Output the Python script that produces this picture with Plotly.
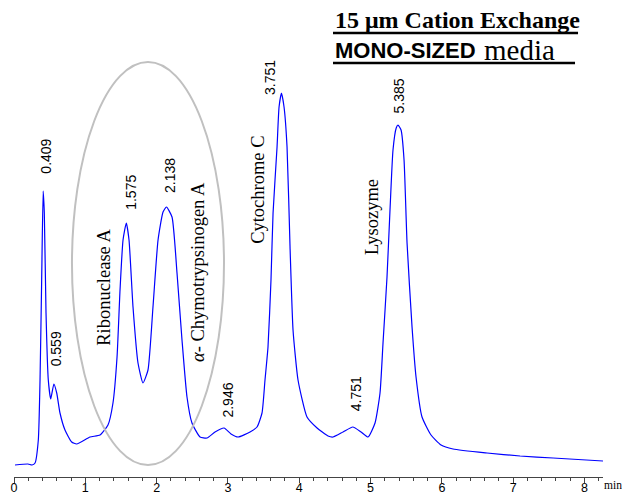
import plotly.graph_objects as go
import numpy as np

# Chromatogram trace (time in min, detector signal in arbitrary units)
time_min = [0.014, 0.196, 0.252, 0.295, 0.341, 0.365, 0.388, 0.409, 0.425, 0.449,
            0.481, 0.515, 0.559, 0.599, 0.645, 0.715, 0.809, 0.879, 1.066, 1.206,
            1.318, 1.388, 1.445, 1.487, 1.529, 1.575, 1.613, 1.669, 1.739, 1.809,
            1.879, 1.949, 2.020, 2.090, 2.138, 2.216, 2.286, 2.356, 2.426, 2.496,
            2.609, 2.707, 2.819, 2.946, 3.043, 3.142, 3.310, 3.408, 3.478, 3.520,
            3.562, 3.604, 3.633, 3.689, 3.717, 3.751, 3.787, 3.829, 3.871, 3.913,
            3.983, 4.109, 4.250, 4.404, 4.474, 4.614, 4.751, 4.867, 4.965, 5.063,
            5.133, 5.175, 5.231, 5.273, 5.315, 5.360, 5.385, 5.428, 5.470, 5.512,
            5.582, 5.638, 5.722, 5.848, 5.989, 6.157, 6.634, 7.097, 7.560, 8.261]
signal = [12, 13, 12, 14, 37, 97, 197, 286, 264, 164,
          97, 78, 93, 84, 64, 47, 35, 33, 40, 42,
          52, 74, 120, 187, 237, 254, 237, 170, 114, 94,
          107, 170, 237, 265, 270, 260, 204, 137, 80, 54,
          40, 39, 45, 49, 43, 40, 45, 50, 64, 97,
          130, 197, 264, 330, 370, 384, 370, 330, 230, 147,
          97, 60, 49, 41, 40, 45, 50, 45, 40, 54,
          84, 134, 200, 267, 327, 349, 352, 347, 317, 234,
          150, 100, 60, 42, 32, 28, 24, 21, 19, 16]

# Peak retention times (labels) and label nudges (pixels)
peak_times = [0.409, 0.559, 1.575, 2.138, 2.946, 3.751, 4.751, 5.385]
peak_labels = ["0.409", "0.559", "1.575", "2.138", "2.946", "3.751", "4.751", "5.385"]
label_dx = [2, 2, 4, 3, 3, -12, 3, 1]
label_dy = [15, 16, 11, 12, 8, -4, 14, 10]

# Compound names
compounds = ["Ribonuclease A", "<i>α</i>- Chymotrypsinogen A", "Cytochrome C", "Lysozyme"]
compound_t = [1.26, 2.58, 3.42, 5.02]
compound_s = [190, 205, 287, 260]

x_ticks = [0, 1, 2, 3, 4, 5, 6, 7, 8]

fig = go.Figure()
fig.add_trace(go.Scatter(x=time_min, y=signal, mode="lines",
                         line=dict(color="#0000ff", width=1.2, shape="spline", smoothing=0.5),
                         hoverinfo="x+y", showlegend=False))

num_font = dict(family="Liberation Sans, Arial", size=14, color="black")
for t, lab, dx, dy in zip(peak_times, peak_labels, label_dx, label_dy):
    h = float(np.interp(t, time_min, signal))
    fig.add_annotation(x=t, y=h, text=lab, showarrow=False, textangle=-90,
                       xanchor="center", yanchor="bottom", xshift=dx, yshift=dy,
                       font=num_font)

name_font = dict(family="Liberation Serif, Times New Roman", size=18.5, color="black")
for name, t, s in zip(compounds, compound_t, compound_s):
    fig.add_annotation(x=t, y=s, text=name, showarrow=False, textangle=-90,
                       xanchor="center", yanchor="middle", font=name_font)

# Title block
fig.add_annotation(xref="paper", yref="paper", x=0.5416, y=0.9744,
                   xanchor="left", yanchor="middle", showarrow=False,
                   text="<b>15 μm Cation Exchange</b>",
                   font=dict(family="Liberation Serif, Times New Roman", size=24, color="black"))
fig.add_annotation(xref="paper", yref="paper", x=0.5416, y=0.9104,
                   xanchor="left", yanchor="middle", showarrow=False,
                   text="<b>MONO-SIZED</b>",
                   font=dict(family="Liberation Sans, Arial", size=22, color="black"))
fig.add_annotation(xref="paper", yref="paper", x=0.7946, y=0.9104,
                   xanchor="left", yanchor="middle", showarrow=False,
                   text="media",
                   font=dict(family="Liberation Serif, Times New Roman", size=29, color="black"))

# "min" axis unit
fig.add_annotation(xref="paper", yref="paper", x=1.0, y=0, xshift=-1, yshift=-8,
                   xanchor="left", yanchor="middle", showarrow=False, text="min",
                   font=dict(family="Liberation Serif, Times New Roman", size=11.5, color="black"))

# Ellipse around the two proteins, and title underlines
fig.add_shape(type="circle", xref="x", yref="y", x0=0.813, x1=2.945, y0=12, y1=415,
              line=dict(color="#c0c0c0", width=2))
fig.add_shape(type="line", xref="paper", yref="paper", x0=0.5416, x1=0.9576, y0=0.9467, y1=0.9467,
              line=dict(color="black", width=2.5))
fig.add_shape(type="line", xref="paper", yref="paper", x0=0.5416, x1=0.9525, y0=0.8827, y1=0.8827,
              line=dict(color="black", width=2.5))

fig.update_layout(
    width=622, height=496,
    margin=dict(l=14, r=19, t=8, b=19, autoexpand=False),
    paper_bgcolor="white", plot_bgcolor="white",
    xaxis=dict(range=[0, 8.26], tickvals=x_ticks, ticktext=[str(v) for v in x_ticks],
               automargin=False, ticklabelstandoff=-6,
               showgrid=False, zeroline=False, showline=True, linecolor="#444", linewidth=1,
               ticks="outside", ticklen=5, tickwidth=1, tickcolor="#444",
               minor=dict(ticks="outside", ticklen=3, dtick=0.2, tick0=0, tickcolor="#444"),
               tickfont=dict(family="Liberation Sans, Arial", size=12.5, color="black")),
    yaxis=dict(range=[0, 469], visible=False, showgrid=False, zeroline=False, automargin=False),
)

# Remove the default 8 px page margin so the 622x496 figure fills the window exactly
fig.write_html("out.html", config={"displayModeBar": False},
               post_script="document.body.style.margin='0px';")
